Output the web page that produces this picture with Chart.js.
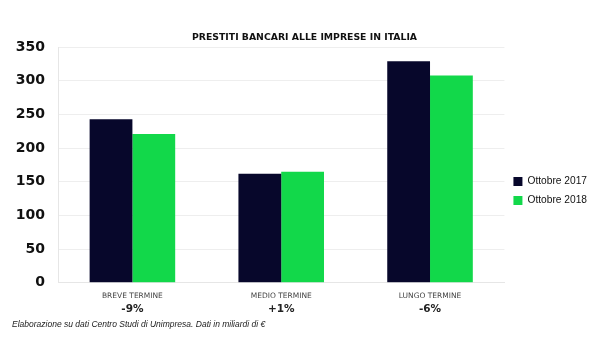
<!DOCTYPE html>
<html>
<head>
<meta charset="utf-8">
<script src="https://cdn.jsdelivr.net/npm/chart.js@4"></script>
<style>
  html, body { margin: 0; padding: 0; background: #fff; }
  #wrap { width: 600px; height: 360px; }
</style>
</head>
<body>
<div id="wrap"><canvas id="prestitiChart"></canvas></div>
<script>
// Prestiti bancari alle imprese - dati
const categories = ['BREVE TERMINE', 'MEDIO TERMINE', 'LUNGO TERMINE'];
const changes = ['-9%', '+1%', '-6%'];
const ottobre2017 = [243, 162, 329];
const ottobre2018 = [221, 165, 308];
const yTicks = [0, 50, 100, 150, 200, 250, 300, 350];

const DARK = '#07072b';
const GREEN = '#12d84a';

window.addEventListener('DOMContentLoaded', function() {
  const ctx = document.getElementById('prestitiChart').getContext('2d');
  new Chart(ctx, {
    type: 'bar',
    data: {
      labels: categories,
      datasets: [
        {
          label: 'Ottobre 2017',
          data: ottobre2017,
          backgroundColor: DARK
        },
        {
          label: 'Ottobre 2018',
          data: ottobre2018,
          backgroundColor: GREEN
        }
      ]
    },
    options: {
      responsive: true,
      maintainAspectRatio: false,
      animation: false,
      categoryPercentage: 0.575,
      barPercentage: 1,
      layout: {
        padding: { left: 12, right: 3, bottom: 0 }
      },
      scales: {
        x: {
          grid: { display: false, drawTicks: false },
          border: { color: '#e6e6e6' },
          afterFit: function(axis) { axis.height = 18; },
          ticks: {
            color: '#444',
            font: { family: 'DejaVu Sans', size: 7.5 },
            padding: 9
          }
        },
        x2: {
          type: 'category',
          position: 'bottom',
          labels: changes,
          grid: { display: false, drawTicks: false },
          border: { display: false },
          afterFit: function(axis) { axis.height = 15; },
          ticks: {
            color: '#222',
            font: { family: 'DejaVu Sans', size: 10.5, weight: 'bold' },
            padding: 2
          }
        },
        y: {
          min: 0,
          max: 350,
          afterBuildTicks: function(axis) {
            axis.ticks = yTicks.map(v => ({ value: v }));
          },
          afterFit: function(axis) { axis.width = 46; },
          grid: { color: '#eeeeee', drawTicks: false },
          border: { color: '#e6e6e6' },
          ticks: {
            color: '#111',
            font: { family: 'DejaVu Sans', size: 14, weight: 'bold' },
            padding: 13
          }
        }
      },
      plugins: {
        title: {
          display: true,
          text: 'PRESTITI BANCARI ALLE IMPRESE IN ITALIA',
          color: '#111',
          font: { family: 'DejaVu Sans', size: 9.3, weight: 'bold' },
          padding: { top: 32, bottom: 4 }
        },
        subtitle: {
          display: true,
          position: 'bottom',
          align: 'start',
          text: 'Elaborazione su dati Centro Studi di Unimpresa. Dati in miliardi di €',
          color: '#222',
          font: { family: 'Liberation Sans', size: 8.5, style: 'italic' },
          padding: { top: 4, bottom: 30 }
        },
        legend: {
          position: 'right',
          title: {
            display: true,
            text: ' ',
            font: { size: 10 },
            padding: { top: 5, bottom: 5 }
          },
          labels: {
            color: '#111',
            font: { family: 'Liberation Sans', size: 10.2 },
            boxWidth: 9,
            boxHeight: 9,
            padding: 9
          }
        },
        tooltip: { enabled: false }
      }
    }
  });
});
</script>
</body>
</html>
